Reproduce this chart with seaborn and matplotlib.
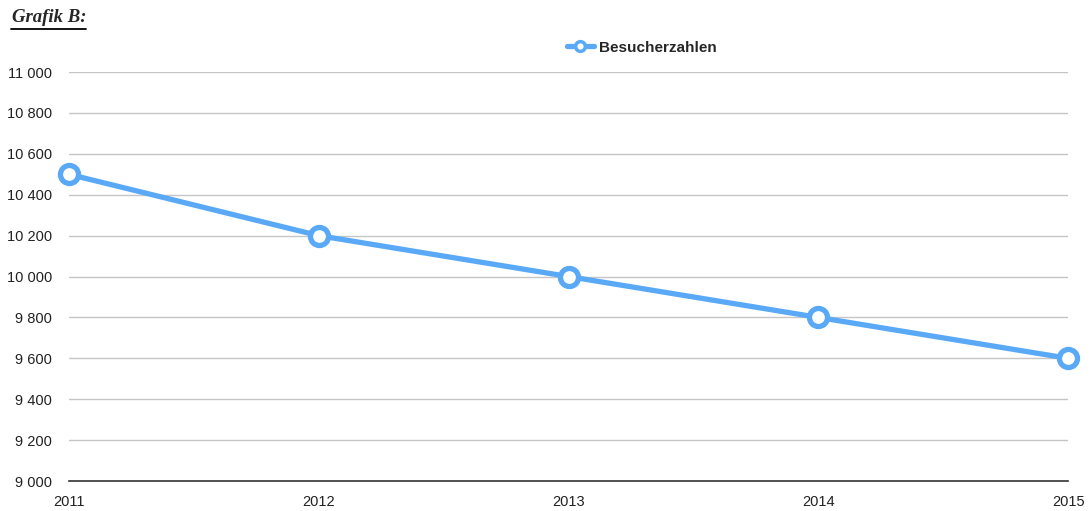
import matplotlib
matplotlib.use('Agg')
import matplotlib.pyplot as plt
import seaborn as sns
import pandas as pd
from matplotlib.lines import Line2D

# Data
years = [2011, 2012, 2013, 2014, 2015]
besucher = [10500, 10200, 10000, 9800, 9600]
y_ticks = [9000, 9200, 9400, 9600, 9800, 10000, 10200, 10400, 10600, 10800, 11000]

df = pd.DataFrame({'Jahr': years, 'Besucherzahlen': besucher})

sns.set_style('white')
plt.rcParams['font.family'] = ['Liberation Sans', 'DejaVu Sans']

blue = '#59A9F6'

fig = plt.figure(figsize=(10.91, 5.11), dpi=100)
ax = fig.add_axes([0.0632, 0.0587, 0.9158, 0.8003])

sns.lineplot(data=df, x='Jahr', y='Besucherzahlen', ax=ax, color=blue, linewidth=3.8,
             marker='o', markersize=13, markerfacecolor='white', markeredgecolor=blue,
             markeredgewidth=3.8, clip_on=False, zorder=5)

# Axes setup
ax.set_xlim(2011, 2015)
ax.set_ylim(9000, 11000)
ax.set_xticks(years)
ax.set_xticklabels([str(y) for y in years], fontsize=10.5, color='#222222')
ax.set_yticks(y_ticks)
ax.set_yticklabels(['{:,}'.format(v).replace(',', ' ') for v in y_ticks], fontsize=10.5, color='#222222')
ax.tick_params(axis='both', length=0)
ax.tick_params(axis='y', pad=12)
ax.tick_params(axis='x', pad=10)
ax.set_xlabel('')
ax.set_ylabel('')

ax.grid(axis='y', color='#c6c6c6', linewidth=1)
ax.grid(axis='x', visible=False)
for side in ['top', 'right', 'left']:
    ax.spines[side].set_visible(False)
ax.spines['bottom'].set_color('#333333')
ax.spines['bottom'].set_linewidth(1.2)

# Legend
handle = Line2D([], [], color=blue, linewidth=3.8, marker='o', markersize=7,
                markerfacecolor='white', markeredgecolor=blue, markeredgewidth=2.5)
leg = fig.legend([handle], ['Besucherzahlen'], loc='center', bbox_to_anchor=(0.588, 0.907),
                 frameon=False, handlelength=1.8, handletextpad=0.3,
                 prop={'weight': 'bold', 'size': 11})

# Title "Grafik B:" underlined
fig.text(0.011, 0.957, 'Grafik B:', fontsize=13.5, fontweight='bold', style='italic',
         family=['Liberation Serif', 'DejaVu Serif'], ha='left', va='baseline')
fig.add_artist(Line2D([0.010, 0.079], [0.944, 0.944], color='black', linewidth=1.3))

fig.savefig('out.png', dpi=100)
